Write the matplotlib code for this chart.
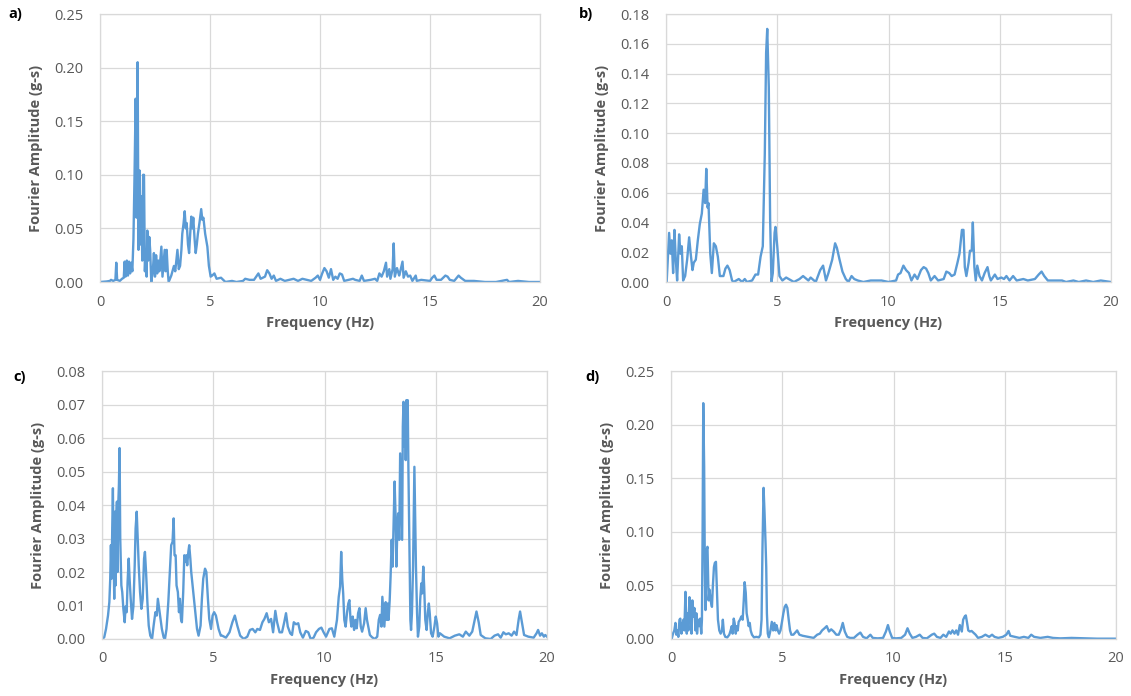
import numpy as np
import matplotlib
matplotlib.use("Agg")
import matplotlib.pyplot as plt

plt.rcParams['font.family'] = ['Open Sans', 'DejaVu Sans']

# --- data (frequency in Hz, amplitude in g-s) ---
freq_a = [0, 0.3, 0.45, 0.5, 0.6, 0.7, 0.74, 0.78, 0.9, 1.0, 1.08, 1.12, 1.16, 1.22, 1.27, 1.32, 1.37, 1.42,
          1.47, 1.52, 1.57, 1.62, 1.66, 1.71, 1.75, 1.8, 1.84, 1.88, 1.92, 1.96, 2.0, 2.04, 2.08, 2.12, 2.15,
          2.19, 2.24, 2.28, 2.33, 2.4, 2.45, 2.5, 2.55, 2.6, 2.65, 2.7, 2.79, 2.84, 2.9, 2.94, 2.98, 3.03,
          3.08, 3.12, 3.24, 3.36, 3.42, 3.47, 3.52, 3.58, 3.64, 3.7, 3.74, 3.8, 3.85, 3.9, 3.94, 4.0, 4.05,
          4.1, 4.15, 4.2, 4.24, 4.3, 4.35, 4.4, 4.45, 4.52, 4.6, 4.65, 4.7, 4.78, 4.88, 4.95, 5.03, 5.1, 5.2,
          5.3, 5.5, 5.7, 6.0, 6.2, 6.5, 6.6, 6.8, 7.0, 7.1, 7.2, 7.3, 7.5, 7.6, 7.7, 7.8, 7.9, 8.0, 8.2, 8.4,
          8.8, 9.0, 9.2, 9.4, 9.6, 9.8, 9.9, 10.0, 10.1, 10.2, 10.3, 10.4, 10.5, 10.6, 10.7, 10.8, 10.9, 11.0,
          11.1, 11.3, 11.5, 11.6, 11.8, 11.9, 12.0, 12.3, 12.5, 12.6, 12.7, 12.8, 12.9, 13.0, 13.05, 13.15,
          13.2, 13.3, 13.35, 13.4, 13.5, 13.6, 13.65, 13.75, 13.8, 13.9, 14.0, 14.1, 14.2, 14.35, 14.4, 14.6,
          15.0, 15.1, 15.2, 15.3, 15.5, 15.7, 15.8, 15.9, 16.1, 16.3, 16.4, 16.6, 17.0, 17.5, 18.0, 18.5,
          18.6, 19.0, 19.5, 20.0]
amp_a = [0, 0.0005, 0.001, 0.002, 0.001, 0.002, 0.018, 0.002, 0.001, 0.003, 0.004, 0.019, 0.005, 0.02, 0.006,
         0.019, 0.008, 0.018, 0.01, 0.04, 0.1, 0.171, 0.06, 0.205, 0.03, 0.104, 0.035, 0.08, 0.02, 0.1, 0.1,
         0.01, 0.03, 0.005, 0.048, 0.02, 0.042, 0.03, 0.0, 0.01, 0.027, 0.005, 0.025, 0.008, 0.02, 0.01, 0.033,
         0.005, 0.02, 0.03, 0.01, 0.03, 0.01, 0.0, 0.006, 0.015, 0.01, 0.02, 0.03, 0.012, 0.015, 0.03, 0.045,
         0.055, 0.066, 0.05, 0.055, 0.035, 0.027, 0.045, 0.061, 0.05, 0.06, 0.04, 0.027, 0.035, 0.045, 0.055,
         0.068, 0.058, 0.06, 0.045, 0.033, 0.015, 0.005, 0.006, 0.008, 0.003, 0.004, 0.0, 0.001, 0.0, 0.001,
         0.003, 0.002, 0.002, 0.005, 0.008, 0.003, 0.005, 0.011, 0.008, 0.003, 0.006, 0.001, 0.003, 0.001,
         0.003, 0.001, 0.003, 0.002, 0.001, 0.004, 0.006, 0.002, 0.008, 0.013, 0.01, 0.004, 0.012, 0.002,
         0.005, 0.003, 0.008, 0.007, 0.001, 0.002, 0.003, 0.002, 0.001, 0.006, 0.001, 0.002, 0.003, 0.001,
         0.008, 0.005, 0.01, 0.018, 0.005, 0.012, 0.003, 0.012, 0.036, 0.005, 0.013, 0.006, 0.01, 0.019,
         0.004, 0.01, 0.005, 0.006, 0.001, 0.006, 0.001, 0.002, 0.001, 0.004, 0.006, 0.002, 0.002, 0.006,
         0.005, 0.002, 0.001, 0.006, 0.004, 0.001, 0.001, 0.0, 0.0, 0.002, 0.0, 0.001, 0.0, 0.0]

freq_b = [0.0, 0.03, 0.14, 0.2, 0.26, 0.32, 0.38, 0.44, 0.5, 0.59, 0.65, 0.71, 0.77, 0.86, 0.95, 1.04, 1.11,
          1.19, 1.25, 1.34, 1.43, 1.52, 1.61, 1.69, 1.76, 1.81, 1.87, 1.91, 1.99, 2.06, 2.15, 2.24, 2.33, 2.42,
          2.58, 2.67, 2.76, 2.86, 2.97, 3.04, 3.27, 3.42, 3.54, 3.64, 3.87, 4.02, 4.14, 4.25, 4.35, 4.44, 4.5,
          4.55, 4.62, 4.68, 4.74, 4.8, 4.88, 4.92, 5.0, 5.1, 5.23, 5.4, 5.75, 6.0, 6.16, 6.4, 6.5, 6.73, 6.93,
          7.06, 7.19, 7.3, 7.47, 7.6, 7.68, 7.8, 7.93, 8.08, 8.2, 8.34, 8.46, 8.62, 8.87, 9.2, 9.69, 10.0,
          10.34, 10.43, 10.54, 10.67, 10.79, 10.92, 11.03, 11.17, 11.3, 11.46, 11.58, 11.69, 11.79, 11.9,
          12.07, 12.23, 12.48, 12.6, 12.73, 12.84, 12.97, 13.1, 13.19, 13.3, 13.37, 13.43, 13.5, 13.6, 13.66,
          13.74, 13.79, 13.86, 13.92, 13.99, 14.09, 14.2, 14.32, 14.45, 14.53, 14.6, 14.78, 14.9, 15.07,
          15.19, 15.3, 15.44, 15.6, 15.76, 16.06, 16.26, 16.58, 16.75, 16.88, 17.0, 17.16, 17.57, 17.8,
          17.98, 18.31, 18.55, 18.88, 19.2, 19.54, 20.0]
amp_b = [0.0, 0.0, 0.033, 0.019, 0.028, 0.006, 0.035, 0.015, 0.001, 0.032, 0.019, 0.024, 0.001, 0.004, 0.015,
         0.03, 0.019, 0.008, 0.013, 0.015, 0.028, 0.039, 0.046, 0.062, 0.053, 0.076, 0.05, 0.053, 0.019, 0.006,
         0.026, 0.024, 0.017, 0.004, 0.004, 0.009, 0.011, 0.008, 0.001, 0.0, 0.002, 0.0, 0.002, 0.0, 0.001,
         0.005, 0.005, 0.017, 0.024, 0.086, 0.154, 0.170, 0.131, 0.042, 0.0, 0.006, 0.033, 0.037, 0.024,
         0.004, 0.001, 0.003, 0.0, 0.002, 0.004, 0.001, 0.003, 0.0, 0.008, 0.011, 0.001, 0.006, 0.015, 0.026,
         0.023, 0.015, 0.007, 0.002, 0.0, 0.004, 0.002, 0.001, 0.0, 0.001, 0.001, 0.0, 0.001, 0.005, 0.006,
         0.011, 0.008, 0.006, 0.001, 0.005, 0.002, 0.008, 0.01, 0.009, 0.006, 0.001, 0.004, 0.001, 0.002,
         0.007, 0.006, 0.004, 0.005, 0.013, 0.019, 0.035, 0.035, 0.01, 0.004, 0.013, 0.021, 0.021, 0.04,
         0.01, 0.001, 0.011, 0.004, 0.001, 0.006, 0.01, 0.004, 0.001, 0.005, 0.002, 0.003, 0.002, 0.004,
         0.001, 0.004, 0.001, 0.002, 0.001, 0.002, 0.005, 0.007, 0.004, 0.001, 0.001, 0.001, 0.0, 0.001,
         0.0, 0.001, 0.0, 0.001, 0.0]

freq_c = [0.0, 0.1, 0.18, 0.27, 0.33, 0.37, 0.4, 0.43, 0.46, 0.49, 0.52, 0.55, 0.58, 0.61, 0.64, 0.67, 0.7,
          0.73, 0.76, 0.79, 0.82, 0.87, 0.91, 0.96, 1.02, 1.06, 1.11, 1.15, 1.2, 1.24, 1.29, 1.35, 1.41, 1.47,
          1.51, 1.56, 1.6, 1.65, 1.71, 1.77, 1.83, 1.89, 1.93, 1.98, 2.04, 2.1, 2.17, 2.25, 2.32, 2.4, 2.46,
          2.51, 2.57, 2.63, 2.69, 2.77, 2.83, 2.9, 2.98, 3.05, 3.11, 3.17, 3.22, 3.26, 3.31, 3.35, 3.41, 3.46,
          3.5, 3.55, 3.59, 3.65, 3.7, 3.74, 3.79, 3.83, 3.88, 3.92, 3.97, 4.01, 4.07, 4.13, 4.19, 4.27, 4.34,
          4.43, 4.49, 4.55, 4.63, 4.69, 4.76, 4.82, 4.9, 4.97, 5.04, 5.12, 5.24, 5.34, 5.4, 5.57, 5.73, 5.86,
          5.97, 6.08, 6.21, 6.37, 6.53, 6.65, 6.77, 6.89, 6.98, 7.1, 7.21, 7.3, 7.4, 7.5, 7.6, 7.69, 7.79,
          7.87, 7.98, 8.09, 8.19, 8.27, 8.35, 8.46, 8.54, 8.62, 8.72, 8.82, 8.91, 9.03, 9.16, 9.27, 9.38,
          9.51, 9.62, 9.75, 9.86, 9.96, 10.07, 10.22, 10.33, 10.44, 10.56, 10.64, 10.7, 10.75, 10.8, 10.84,
          10.89, 10.95, 11.01, 11.07, 11.12, 11.17, 11.21, 11.27, 11.33, 11.39, 11.45, 11.51, 11.57, 11.63,
          11.69, 11.78, 11.85, 11.91, 11.97, 12.04, 12.14, 12.26, 12.37, 12.44, 12.5, 12.56, 12.6, 12.65,
          12.69, 12.75, 12.8, 12.84, 12.88, 12.93, 12.97, 13.02, 13.06, 13.11, 13.15, 13.2, 13.23, 13.27,
          13.31, 13.36, 13.4, 13.45, 13.49, 13.52, 13.55, 13.59, 13.62, 13.65, 13.68, 13.71, 13.74, 13.77,
          13.8, 13.83, 13.86, 13.89, 13.93, 13.98, 14.01, 14.04, 14.08, 14.11, 14.16, 14.2, 14.26, 14.3,
          14.35, 14.39, 14.44, 14.48, 14.53, 14.59, 14.64, 14.69, 14.73, 14.79, 14.86, 14.94, 15.0, 15.06,
          15.12, 15.19, 15.38, 15.62, 15.86, 16.06, 16.22, 16.35, 16.51, 16.64, 16.73, 16.83, 16.93, 17.02,
          17.23, 17.47, 17.64, 17.8, 17.92, 18.04, 18.15, 18.28, 18.41, 18.52, 18.63, 18.73, 18.79, 18.87,
          18.97, 19.16, 19.4, 19.53, 19.6, 19.69, 19.77, 19.86, 19.92, 20.0]
amp_c = [0.0, 0.0005, 0.003, 0.007, 0.011, 0.018, 0.028, 0.018, 0.033, 0.045, 0.026, 0.012, 0.038, 0.016,
         0.035, 0.041, 0.02, 0.04, 0.046, 0.057, 0.03, 0.016, 0.014, 0.009, 0.005, 0.0097, 0.008, 0.017, 0.024,
         0.018, 0.012, 0.006, 0.0097, 0.022, 0.033, 0.038, 0.031, 0.022, 0.014, 0.009, 0.012, 0.024, 0.026,
         0.02, 0.011, 0.004, 0.001, 0.0, 0.004, 0.008, 0.007, 0.012, 0.009, 0.006, 0.003, 0.0005, 0.0, 0.003,
         0.011, 0.02, 0.028, 0.029, 0.036, 0.025, 0.025, 0.016, 0.014, 0.008, 0.012, 0.006, 0.005, 0.014,
         0.025, 0.023, 0.025, 0.022, 0.026, 0.028, 0.024, 0.02, 0.016, 0.012, 0.008, 0.003, 0.001, 0.004,
         0.012, 0.018, 0.021, 0.02, 0.012, 0.006, 0.003, 0.007, 0.008, 0.007, 0.003, 0.001, 0.001, 0.0004,
         0.002, 0.005, 0.007, 0.004, 0.001, 0.0, 0.0007, 0.0027, 0.003, 0.002, 0.003, 0.0027, 0.005, 0.006,
         0.0077, 0.005, 0.006, 0.002, 0.0084, 0.005, 0.002, 0.002, 0.005, 0.0077, 0.0037, 0.0017, 0.0012,
         0.005, 0.0044, 0.0047, 0.002, 0.0004, 0.0024, 0.002, 0.0, 0.0004, 0.002, 0.003, 0.0034, 0.002,
         0.0007, 0.003, 0.0032, 0.0007, 0.0057, 0.0126, 0.0156, 0.026, 0.0176, 0.0136, 0.0057, 0.0037,
         0.0077, 0.0106, 0.0116, 0.0057, 0.0037, 0.0067, 0.0027, 0.0057, 0.0032, 0.0077, 0.0092, 0.0037,
         0.0022, 0.0047, 0.0092, 0.0057, 0.0037, 0.0012, 0.0005, 0.0, 0.0007, 0.0057, 0.0072, 0.0037, 0.0126,
         0.0077, 0.0037, 0.011, 0.0057, 0.0106, 0.0057, 0.0116, 0.0186, 0.0296, 0.0216, 0.0355, 0.047,
         0.0355, 0.0216, 0.0315, 0.0375, 0.0296, 0.0554, 0.0415, 0.0296, 0.0634, 0.0708, 0.0574, 0.0703,
         0.0534, 0.0713, 0.0574, 0.0713, 0.0514, 0.0355, 0.0176, 0.0057, 0.0027, 0.0077, 0.0216, 0.0375,
         0.0514, 0.0355, 0.0216, 0.0077, 0.0007, 0.0037, 0.0116, 0.0166, 0.0136, 0.0216, 0.0156, 0.0057,
         0.0027, 0.0077, 0.0106, 0.0077, 0.0017, 0.0007, 0.0037, 0.0067, 0.0047, 0.0007, 0.0017, 0.0007,
         0.0002, 0.001, 0.0014, 0.0007, 0.0022, 0.001, 0.0022, 0.005, 0.0082, 0.005, 0.0012, 0.0002, 0.0,
         0.001, 0.0014, 0.0004, 0.002, 0.0014, 0.0017, 0.001, 0.0022, 0.0012, 0.006, 0.0082, 0.005, 0.0012,
         0.0007, 0.0004, 0.0017, 0.0027, 0.001, 0.0017, 0.0007, 0.0012, 0.0007]

freq_d = [0.0, 0.03, 0.09, 0.15, 0.2, 0.24, 0.29, 0.33, 0.38, 0.42, 0.47, 0.51, 0.56, 0.6, 0.65, 0.68, 0.71,
          0.74, 0.78, 0.83, 0.86, 0.89, 0.92, 0.96, 1.01, 1.05, 1.1, 1.14, 1.17, 1.22, 1.27, 1.31, 1.36, 1.39,
          1.42, 1.45, 1.49, 1.52, 1.55, 1.6, 1.64, 1.69, 1.73, 1.78, 1.84, 1.88, 1.93, 1.97, 2.02, 2.06, 2.11,
          2.17, 2.23, 2.29, 2.33, 2.38, 2.44, 2.53, 2.62, 2.68, 2.73, 2.77, 2.82, 2.86, 2.91, 2.95, 3.0, 3.04,
          3.1, 3.16, 3.22, 3.27, 3.31, 3.36, 3.4, 3.45, 3.49, 3.54, 3.58, 3.64, 3.73, 3.83, 3.95, 4.02, 4.07,
          4.11, 4.16, 4.2, 4.25, 4.28, 4.31, 4.35, 4.4, 4.47, 4.53, 4.59, 4.65, 4.7, 4.74, 4.8, 4.86, 4.92,
          4.98, 5.05, 5.11, 5.17, 5.23, 5.29, 5.35, 5.41, 5.5, 5.67, 5.77, 5.92, 6.16, 6.41, 6.57, 6.69, 6.79,
          6.9, 7.0, 7.1, 7.2, 7.31, 7.43, 7.54, 7.64, 7.72, 7.81, 7.92, 8.05, 8.22, 8.38, 8.51, 8.63, 8.79,
          8.96, 9.07, 9.29, 9.53, 9.66, 9.75, 9.83, 9.94, 10.11, 10.35, 10.52, 10.63, 10.73, 10.85, 11.01,
          11.18, 11.31, 11.5, 11.72, 11.83, 11.95, 12.11, 12.24, 12.37, 12.49, 12.57, 12.65, 12.74, 12.82,
          12.9, 12.98, 13.07, 13.13, 13.2, 13.25, 13.3, 13.36, 13.43, 13.51, 13.59, 13.69, 13.8, 13.97,
          14.13, 14.3, 14.43, 14.54, 14.71, 14.91, 15.07, 15.17, 15.25, 15.45, 15.66, 15.86, 16.06, 16.19,
          16.32, 16.6, 16.93, 17.17, 17.5, 18.0, 18.65, 19.15, 20.0]
amp_d = [0.0, 0.0, 0.005, 0.008, 0.015, 0.004, 0.008, 0.002, 0.018, 0.019, 0.005, 0.012, 0.018, 0.008, 0.044,
         0.021, 0.005, 0.024, 0.008, 0.039, 0.018, 0.024, 0.005, 0.036, 0.021, 0.029, 0.008, 0.024, 0.005,
         0.018, 0.012, 0.019, 0.005, 0.018, 0.099, 0.22, 0.161, 0.067, 0.027, 0.083, 0.086, 0.036, 0.046,
         0.036, 0.03, 0.049, 0.067, 0.071, 0.072, 0.049, 0.018, 0.008, 0.005, 0.008, 0.018, 0.005, 0.002,
         0.0015, 0.004, 0.008, 0.012, 0.005, 0.019, 0.015, 0.005, 0.012, 0.008, 0.016, 0.018, 0.021, 0.018,
         0.036, 0.053, 0.043, 0.024, 0.018, 0.012, 0.015, 0.008, 0.004, 0.0015, 0.002, 0.0015, 0.004, 0.018,
         0.083, 0.141, 0.12, 0.089, 0.067, 0.024, 0.005, 0.0015, 0.008, 0.016, 0.008, 0.015, 0.008, 0.013,
         0.008, 0.005, 0.008, 0.015, 0.024, 0.03, 0.032, 0.029, 0.018, 0.008, 0.004, 0.004, 0.008, 0.004,
         0.003, 0.002, 0.001, 0.004, 0.005, 0.008, 0.01, 0.012, 0.007, 0.009, 0.007, 0.004, 0.004, 0.009,
         0.015, 0.007, 0.002, 0.001, 0.001, 0.004, 0.006, 0.002, 0.0006, 0.004, 0.001, 0.0006, 0.001, 0.007,
         0.013, 0.007, 0.001, 0.0006, 0.001, 0.004, 0.01, 0.005, 0.001, 0.002, 0.004, 0.001, 0.0006, 0.004,
         0.005, 0.002, 0.001, 0.004, 0.002, 0.007, 0.005, 0.008, 0.005, 0.008, 0.004, 0.013, 0.007, 0.018,
         0.021, 0.022, 0.016, 0.008, 0.007, 0.0075, 0.006, 0.004, 0.001, 0.002, 0.004, 0.002, 0.004, 0.002,
         0.001, 0.002, 0.004, 0.0075, 0.003, 0.002, 0.001, 0.002, 0.001, 0.004, 0.002, 0.001, 0.002, 0.001,
         0.0006, 0.001, 0.0006, 0.0003, 0.0003]

panels = [
    ("a)", freq_a, amp_a, 0.25, 0.05, "{:.2f}"),
    ("b)", freq_b, amp_b, 0.18, 0.02, "{:.2f}"),
    ("c)", freq_c, amp_c, 0.08, 0.01, "{:.2f}"),
    ("d)", freq_d, amp_d, 0.25, 0.05, "{:.2f}"),
]

# plot-area boxes in pixels (left, right, top, bottom) and panel-letter positions
W, H = 1131, 696
boxes = [(100, 540, 14, 282), (666, 1111, 14, 282), (102, 547, 371, 639), (671, 1116, 371, 639)]
letters = [(15, 14), (586, 14), (20, 377), (592, 377)]

line_color = "#5B9BD5"
grid_color = "#D9D9D9"
text_color = "#595959"

fig = plt.figure(figsize=(W / 100, H / 100), dpi=100)

for (tag, fx, ay, ymax, ystep, fmt), (l, r, t, b), (lx, ly) in zip(panels, boxes, letters):
    ax = fig.add_axes([l / W, 1 - b / H, (r - l) / W, (b - t) / H])
    ax.plot(fx, ay, color=line_color, lw=1.7, solid_joinstyle="round")
    ax.set_xlim(0, 20)
    ax.set_ylim(0, ymax)
    ax.set_xticks(np.arange(0, 21, 5))
    yt = np.arange(0, ymax + ystep / 2, ystep)
    ax.set_yticks(yt)
    ax.set_yticklabels([fmt.format(v) for v in yt])
    ax.grid(True, color=grid_color, lw=0.9)
    ax.set_axisbelow(True)
    for s in ax.spines.values():
        s.set_color(grid_color)
        s.set_linewidth(0.9)
    ax.tick_params(axis="both", length=0, labelsize=10.5, labelcolor=text_color)
    ax.tick_params(axis="y", pad=12)
    ax.tick_params(axis="x", pad=9)

    fig.text((l + r) / 2 / W, 1 - (b + 41) / H, "Frequency (Hz)", ha="center", va="center",
             fontsize=10.5, fontweight="bold", color=text_color)
    fig.text((l - 64) / W, 1 - (t + b) / 2 / H, "Fourier Amplitude (g-s)", ha="center", va="center",
             rotation=90, fontsize=10.5, fontweight="bold", color=text_color)
    fig.text(lx / W, 1 - ly / H, tag, ha="center", va="center", fontsize=10.5,
             fontweight="bold", color="black")

fig.savefig("out.png", dpi=100)
